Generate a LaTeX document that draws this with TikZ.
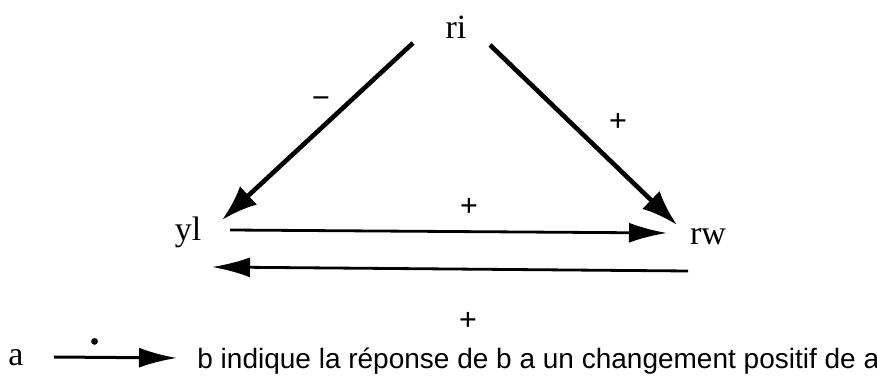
\documentclass[tikz,border=0pt]{standalone}
\usepackage{fontspec}
\setmainfont{Liberation Serif}
\newfontfamily\legendfont{Liberation Sans}
\usetikzlibrary{arrows.meta}

\tikzset{
  var/.style={font=\fontsize{17}{19}\selectfont, inner sep=1pt},
  sgn/.style={font=\fontsize{16}{18}\selectfont\bfseries, inner sep=0pt},
  bigarr/.style={-{Latex[length=18pt,width=12.5pt]}, line width=2.3pt},
  arr/.style={-{Latex[length=19pt,width=10pt]}, line width=1.4pt},
}

\begin{document}
\begin{tikzpicture}[x=0.5pt,y=-0.5pt]
    \useasboundingbox (0,0) rectangle (877,378);
    % les trois variables
    \node[var] (ri) at (456,27) {ri};
    \node[var] (yl) at (188,232) {yl};
    \node[var] (rw) at (708,237) {rw};
    % liens
    \draw[bigarr] ([shift={(-43,16)}]ri.center) to ([shift={(34,-12)}]yl.center);
    \draw[bigarr] ([shift={(34,18)}]ri.center) to ([shift={(-31,-12)}]rw.center);
    \draw[arr] ([shift={(42,-2)}]yl.center) to ([shift={(-41,-4)}]rw.center);
    \draw[arr] ([shift={(-20,34)}]rw.center) to ([shift={(24,35)}]yl.center);
    % signes
    \node[sgn] (m1) at (321,103) {−};
    \node[sgn] (p1) at (618,122) {+};
    \node[sgn] (p2) at (469,207) {+};
    \node[sgn] (p3) at (468,321) {+};
    % legende
    \node[var] (a) at (16,358) {a};
    \node[anchor=base west, inner sep=0pt, font=\legendfont\fontsize{14}{16}\selectfont] (txt) at (197,369)
        {b indique la réponse de b a un changement positif de a};
    \draw[arr, line width=1.5pt] ([xshift=14pt,yshift=0.5pt]a.east) -- node[pos=0.33, above=5.5pt, circle, fill, inner sep=1.2pt] (dot) {} ([xshift=-10pt]a.east -| txt.west);
\end{tikzpicture}
\end{document}
